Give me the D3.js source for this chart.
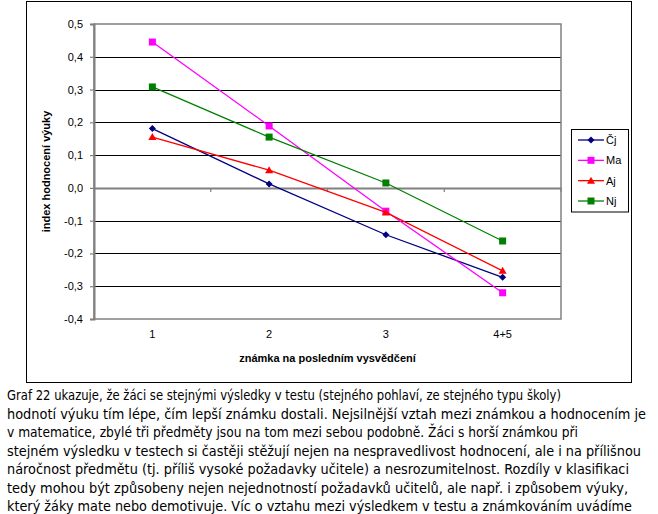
<!DOCTYPE html>
<html><head><meta charset="utf-8">
<script src="https://cdn.jsdelivr.net/npm/d3@7"></script>
<style>body{margin:0;background:#fff;overflow:hidden}svg{display:block}</style>
</head><body>
<svg id="c" width="658" height="514"></svg>
<script>
const categories = ["1", "2", "3", "4+5"];
const seriesNames = ["Čj", "Ma", "Aj", "Nj"];
const cjValues = [0.181, 0.012, -0.143, -0.273];
const maValues = [0.445, 0.189, -0.071, -0.320];
const ajValues = [0.155, 0.054, -0.075, -0.253];
const njValues = [0.308, 0.155, 0.015, -0.162];
const yTicks = [-0.4, -0.3, -0.2, -0.1, 0, 0.1, 0.2, 0.3, 0.4, 0.5];
const yTitle = "index hodnocení výuky";
const xTitle = "známka na posledním vysvědčení";
const paragraph = [
  "Graf 22 ukazuje, že žáci se stejnými výsledky v testu (stejného pohlaví, ze stejného typu školy)",
  "hodnotí výuku tím lépe, čím lepší známku dostali. Nejsilnější vztah mezi známkou a hodnocením je",
  "v matematice, zbylé tři předměty jsou na tom mezi sebou podobně. Žáci s horší známkou při",
  "stejném výsledku v testech si častěji stěžují nejen na nespravedlivost hodnocení, ale i na přílišnou",
  "náročnost předmětu (tj. příliš vysoké požadavky učitele) a nesrozumitelnost. Rozdíly v klasifikaci",
  "tedy mohou být způsobeny nejen nejednotností požadavků učitelů, ale např. i způsobem výuky,",
  "který žáky mate nebo demotivuje. Víc o vztahu mezi výsledkem v testu a známkováním uvádíme"
];
const paragraphEnds = [561, 646, 578, 641, 629, 628, 632];

const series = [
  {name: seriesNames[0], values: cjValues, color: "#000080", shape: "diamond"},
  {name: seriesNames[1], values: maValues, color: "#FF00FF", shape: "square"},
  {name: seriesNames[2], values: ajValues, color: "#FF0000", shape: "triangle"},
  {name: seriesNames[3], values: njValues, color: "#008000", shape: "square"}
];

const svg = d3.select("#c");
const L = 94, R = 561, T = 24, B = 319;
const font = "'Liberation Sans', Arial, sans-serif";

// outer frame
svg.append("rect").attr("x", 26.5).attr("y", 1.5).attr("width", 605).attr("height", 381)
  .attr("fill", "none").attr("stroke", "#000").attr("stroke-width", 1);

const x = d3.scaleBand().domain(categories).range([L, R]);
const y = d3.scaleLinear().domain([-0.4, 0.5]).range([B, T]);

// gridlines
svg.append("g").selectAll("line").data(yTicks.filter(v => v > -0.4 && v < 0.5 && v !== 0)).join("line")
  .attr("x1", L).attr("x2", R)
  .attr("y1", d => Math.round(y(d)) + 0.5).attr("y2", d => Math.round(y(d)) + 0.5)
  .attr("stroke", "#000").attr("stroke-width", 1);

// plot border
svg.append("rect").attr("x", L).attr("y", T).attr("width", R - L).attr("height", B - T)
  .attr("fill", "none").attr("stroke", "#808080").attr("stroke-width", 1.5);

// y axis
const yAxis = d3.axisLeft(y).tickValues(yTicks).tickSize(4).tickPadding(7)
  .tickFormat(d => d3.format(".1f")(d).replace(".", ",").replace("−", "-"));
const gy = svg.append("g").attr("transform", `translate(${L},0)`).call(yAxis);
gy.select(".domain").attr("stroke", "#808080").attr("stroke-width", 2);
gy.selectAll(".tick line").attr("stroke", "#808080").attr("stroke-width", 1.2);
gy.selectAll(".tick text").attr("font-family", font).attr("font-size", 11).attr("fill", "#000");

// x axis at zero
const xAxis = d3.axisBottom(x).tickSize(0).tickFormat(() => "");
const gx = svg.append("g").attr("transform", `translate(0,${y(0)})`).call(xAxis);
gx.select(".domain").attr("stroke", "#808080").attr("stroke-width", 2);
const bounds = categories.slice(1).map(c => x(c)).concat([R]);
gx.selectAll(".bt").data(bounds).join("line").attr("class", "bt")
  .attr("x1", d => d).attr("x2", d => d).attr("y1", 0).attr("y2", 4)
  .attr("stroke", "#808080").attr("stroke-width", 1.2);

// category labels at bottom
svg.append("g").selectAll("text").data(categories).join("text")
  .attr("x", d => x(d) + x.bandwidth() / 2).attr("y", 337.5)
  .attr("text-anchor", "middle").attr("font-family", font).attr("font-size", 11)
  .text(d => d);

// axis titles
svg.append("text").attr("x", (L + R) / 2).attr("y", 362).attr("text-anchor", "middle")
  .attr("font-family", font).attr("font-size", 11).attr("font-weight", "bold").text(xTitle);
svg.append("text").attr("transform", `translate(50,${(T + B) / 2}) rotate(-90)`)
  .attr("text-anchor", "middle").attr("font-family", font).attr("font-size", 11)
  .attr("font-weight", "bold").text(yTitle);

// markers
function marker(g, shape, color, cx, cy) {
  if (shape === "diamond") {
    g.append("path").attr("d", `M${cx},${cy-3.5}L${cx+3.5},${cy}L${cx},${cy+3.5}L${cx-3.5},${cy}Z`).attr("fill", color);
  } else if (shape === "square") {
    g.append("rect").attr("x", cx - 3.5).attr("y", cy - 3.5).attr("width", 7).attr("height", 7).attr("fill", color);
  } else {
    g.append("path").attr("d", `M${cx},${cy-4}L${cx+4},${cy+3}L${cx-4},${cy+3}Z`).attr("fill", color);
  }
}

const line = d3.line().x((d, i) => x(categories[i]) + x.bandwidth() / 2).y(d => y(d));
series.forEach(s => {
  const g = svg.append("g");
  g.append("path").attr("d", line(s.values)).attr("fill", "none")
    .attr("stroke", s.color).attr("stroke-width", 1.3);
  s.values.forEach((v, i) => marker(g, s.shape, s.color, x(categories[i]) + x.bandwidth() / 2, y(v)));
});

// legend
const lg = svg.append("g");
lg.append("rect").attr("x", 571.5).attr("y", 129.5).attr("width", 57).attr("height", 82.5)
  .attr("fill", "#fff").attr("stroke", "#000").attr("stroke-width", 1);
const ly = d3.scalePoint().domain(seriesNames).range([140, 201]);
series.forEach(s => {
  const yy = ly(s.name);
  lg.append("line").attr("x1", 578).attr("x2", 604).attr("y1", yy).attr("y2", yy)
    .attr("stroke", s.color).attr("stroke-width", 1.3);
  marker(lg, s.shape, s.color, 591, yy);
  lg.append("text").attr("x", 606).attr("y", yy + 4).attr("font-family", font).attr("font-size", 11).text(s.name);
});

// paragraph
svg.append("g").selectAll("text").data(paragraph).join("text")
  .attr("x", 7).attr("y", (d, i) => 400 + i * 18.5)
  .attr("font-family", "'DejaVu Sans', sans-serif").attr("font-size", 13.5)
  .attr("textLength", (d, i) => paragraphEnds[i] - 7).attr("lengthAdjust", "spacingAndGlyphs")
  .attr("fill", "#000").text(d => d);
</script>
</body></html>
